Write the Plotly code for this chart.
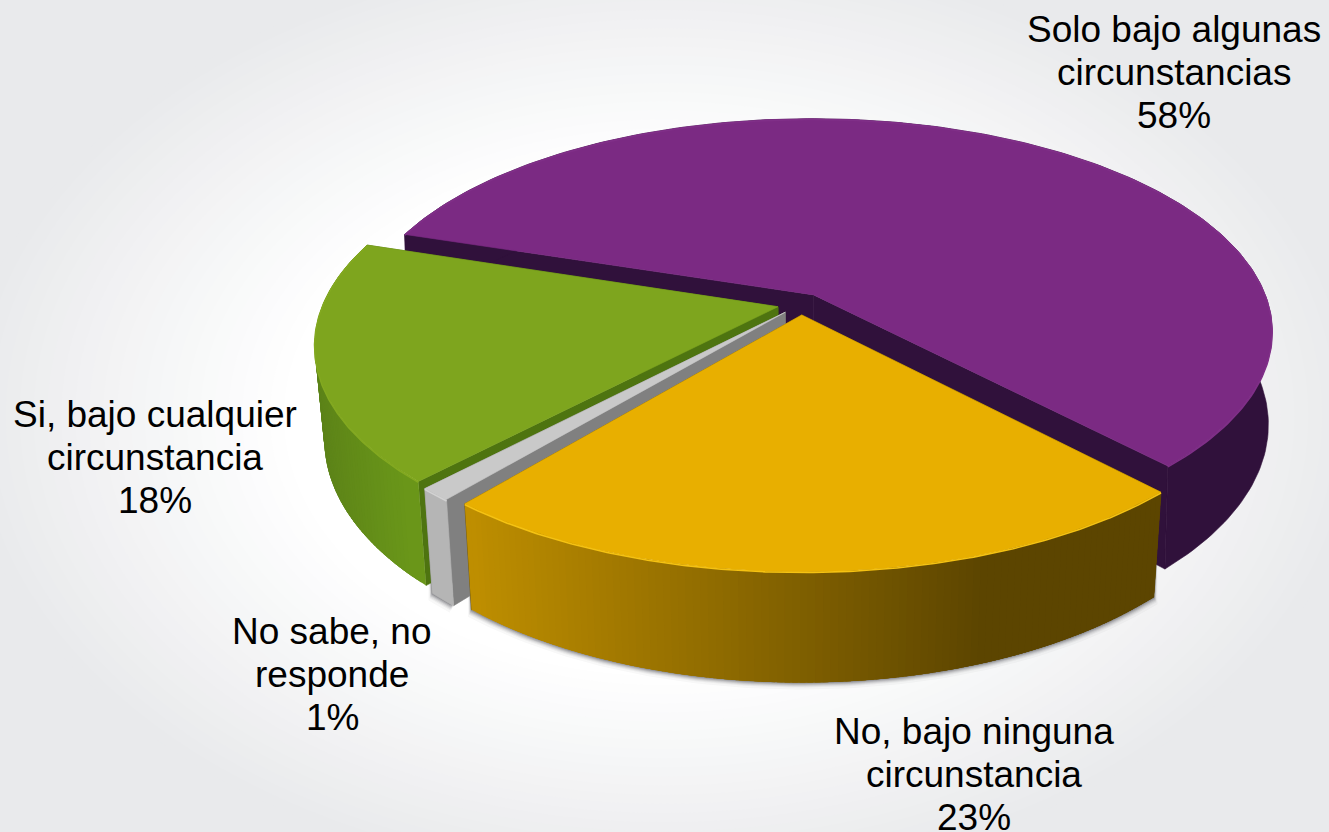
import numpy as np
import plotly.graph_objects as go

# ---- data ----
categories = [["Solo bajo algunas", "circunstancias"], ["No, bajo ninguna", "circunstancia"],
              ["No sabe, no", "responde"], ["Si, bajo cualquier", "circunstancia"]]
values = [58, 23, 1, 18]
top_colors = ["#7B2A83", "#E8AF00", "#C9C9C9", "#7EA51E"]
rim_colors = ["#802F88", "#F5C212", "#D2D2D2", "#83A920"]
cut_colors = ["#30113B", "#6A5000", "#808080", "#4E7410"]

# ---- projection (pixel space) ----
W, H = 1329, 832
CX, CY, RX, RY = 801, 304, 455, 209
K, DEPTH, EXPLODE = 0.17, 91, 0.052
TAPERS = [0.008, 0.02, 0.02, 0.02]
START = 288.0


def project(u, v, z=0.0, taper=0.02):
    s = 1 / (1 - K * v)
    return CX + RX * u * s * (1 - taper * z), CY + RY * v * s + DEPTH * s * z


def rim(a0, a1, ox, oy, z=0.0, n=120, taper=0.02):
    a = np.radians(np.linspace(a0, a1, n))
    return project(np.sin(a) + ox, -np.cos(a) + oy, z, taper)


def poly(fig, x, y, color, lw=0.6):
    fig.add_trace(go.Scatter(x=np.append(x, x[0]), y=np.append(y, y[0]), mode="lines", fill="toself",
                             fillcolor=color, line=dict(color=color, width=lw),
                             hoverinfo="skip", showlegend=False))


def mix(c0, c1, t):
    a = [int(c0[i:i + 2], 16) for i in (1, 3, 5)]
    b = [int(c1[i:i + 2], 16) for i in (1, 3, 5)]
    return "rgb(%d,%d,%d)" % tuple(round(p + (q - p) * t) for p, q in zip(a, b))


def side_color(i, x):
    if i == 0:
        return "#30113B"
    if i == 1:
        t = float(np.clip((x - 470) / (985 - 470), 0, 1))
        return mix("#BE8E00", "#5C4500", t)
    if i == 2:
        return "#B5B5B5"
    t = float(np.clip((x - 320) / (425 - 320), 0, 1))
    return mix("#5C8318", "#6B9819", t)


fig = go.Figure()

# background glow
shapes = []
for j in range(24):
    t = j / 23
    rx_, ry_ = 700 * (1 - t) + 380 * t, 470 * (1 - t) + 260 * t
    shapes.append(dict(type="circle", xref="x", yref="y", layer="below",
                       x0=664 - rx_, x1=664 + rx_, y0=416 - ry_, y1=416 + ry_,
                       fillcolor=mix("#E9EAEC", "#FFFFFF", t), line=dict(width=0)))

fracs = np.array(values) / sum(values) * 360
ends = START + np.cumsum(fracs)
starts = ends - fracs
slices = []
for i in range(len(values)):
    mid = np.radians((starts[i] + ends[i]) / 2)
    slices.append((starts[i], ends[i], EXPLODE * np.sin(mid), -EXPLODE * np.cos(mid)))

# thin soft shadow hugging the bottom edge of the front slices
for off, alpha in [(7, 0.03), (5, 0.05), (4, 0.08), (3, 0.11), (2, 0.15), (1, 0.2)]:
    for i in (1, 2):
        a0, a1, ox, oy = slices[i]
        x, y = rim(a0, a1, ox, oy, 1.0, 80)
        x2, y2 = rim(a1, a0, ox, oy, 0.5, 80)
        poly(fig, np.r_[CX + (x - CX) * (1 + off * 0.0015), x2], np.r_[y + off, y2],
             "rgba(40,40,45,%.2f)" % alpha, lw=0)

order = [0, 3, 2, 1]
for i in order:
    a0, a1, ox, oy = slices[i]
    tp = TAPERS[i]
    ax, ay = project(ox, oy)
    bx, by = project(ox, oy, 1.0, tp)
    # cut faces
    for edge in (a0, a1):
        ex, ey = rim(edge, edge, ox, oy, 0.0, 2, tp)
        fx, fy = rim(edge, edge, ox, oy, 1.0, 2, tp)
        poly(fig, np.array([ax, ex[0], fx[0], bx]), np.array([ay, ey[0], fy[0], by]), cut_colors[i])
    # outer wall: flat slices get one polygon, shaded ones overlapping strips (no seams)
    if i in (1, 3):
        n = max(int((a1 - a0) / 0.8), 2)
        edges = np.linspace(a0, a1, n + 1)
        for k in range(n - 1, -1, -1):
            e0, e1 = edges[k], min(edges[k] + 3, a1)
            if i == 1:
                e0, e1 = max(edges[k + 1] - 3, a0), edges[k + 1]
            tx, ty = rim(e0, e1, ox, oy, 0.0, 6, tp)
            gx, gy = rim(e1, e0, ox, oy, 1.0, 6, tp)
            shade = side_color(i, rim(edges[k], edges[k + 1], ox, oy, 0.0, 3, tp)[0].mean())
            poly(fig, np.r_[tx, gx], np.r_[ty, gy], shade, lw=0)
    else:
        tx, ty = rim(a0, a1, ox, oy, 0.0, 200, tp)
        gx, gy = rim(a1, a0, ox, oy, 1.0, 200, tp)
        poly(fig, np.r_[tx, gx], np.r_[ty, gy], side_color(i, tx.mean()))
    # top
    tx, ty = rim(a0, a1, ox, oy, 0.0, 200)
    poly(fig, np.r_[ax, tx], np.r_[ay, ty], top_colors[i])
    fig.add_trace(go.Scatter(x=tx, y=ty + 0.8, mode="lines", line=dict(color=rim_colors[i], width=1.6),
                             hoverinfo="skip", showlegend=False))

LINE = 43.2
labels = [(1174, 29, 0), (974, 731, 1), (332, 631, 2), (155, 414, 3)]
for lx, ly, i in labels:
    lines = categories[i] + [f"{values[i]}%"]
    for n, txt in enumerate(lines):
        fig.add_annotation(x=lx, y=ly + n * LINE, xref="x", yref="y", text=txt,
                           showarrow=False, yanchor="middle", align="center",
                           font=dict(family="Liberation Sans, Arial", size=37, color="#000000"))

fig.update_layout(width=W, height=H, margin=dict(l=0, r=0, t=0, b=0), paper_bgcolor="#E9EAEC",
                  plot_bgcolor="rgba(0,0,0,0)", shapes=shapes, showlegend=False,
                  xaxis=dict(range=[0, W], visible=False, fixedrange=True),
                  yaxis=dict(range=[H, 0], visible=False, fixedrange=True))
fig.write_html("out.html", config=dict(displayModeBar=False),
               post_script="document.body.style.margin='0';document.body.style.overflow='hidden';")
